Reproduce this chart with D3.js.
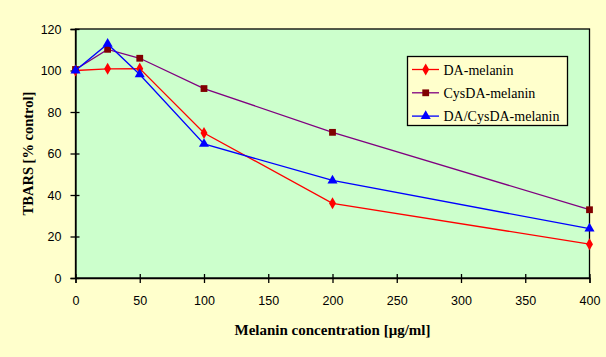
<!DOCTYPE html>
<html><head><meta charset="utf-8">
<script src="https://cdn.jsdelivr.net/npm/d3@7"></script>
<style>body{margin:0;background:#FFFFCC;} svg{display:block;}</style>
</head><body>
<script>
const concentrations = [0, 25, 50, 100, 200, 400];
const daMelanin = [100, 100.8, 100.9, 69.9, 36.0, 16.3];
const cysdaMelanin = [100.5, 110.2, 105.9, 91.3, 70.2, 32.9];
const mixMelanin = [100, 112.8, 98.1, 64.6, 47.0, 23.8];
const seriesNames = ["DA-melanin", "CysDA-melanin", "DA/CysDA-melanin"];
const xTicks = [0, 50, 100, 150, 200, 250, 300, 350, 400];
const yTicks = [0, 20, 40, 60, 80, 100, 120];
const xTitle = "Melanin concentration [\u03BCg/ml]";
const yTitle = "TBARS [% control]";

const W = 606, H = 357;
const L = 75.5, R = 589.5, T = 29, B = 278;
const svg = d3.select("body").append("svg").attr("width", W).attr("height", H);
svg.append("rect").attr("width", W).attr("height", H).attr("fill", "#FFFFCC");

const x = d3.scaleLinear().domain([0, 400]).range([L, R]);
const y = d3.scaleLinear().domain([0, 120]).range([B, T]);

svg.append("rect").attr("x", L).attr("y", T).attr("width", R - L).attr("height", B - T)
  .attr("fill", "#CCFFCC").attr("stroke", "#000").attr("stroke-width", 1.3);

const xa = svg.append("g").attr("transform", `translate(0,${B})`)
  .call(d3.axisBottom(x).tickValues(xTicks).tickFormat(d3.format("d")).tickSize(5).tickPadding(13));
xa.select(".domain").attr("stroke-width", 1.3);
xa.selectAll(".tick line").attr("y1", -4).attr("y2", 5).attr("stroke-width", 1.3);
xa.selectAll("text").attr("font-family", "Liberation Sans, Arial, sans-serif").attr("font-size", 12.5).attr("fill", "#000");

const ya = svg.append("g").attr("transform", `translate(${L},0)`)
  .call(d3.axisLeft(y).tickValues(yTicks).tickSize(5).tickPadding(9));
ya.select(".domain").attr("stroke-width", 1.3);
ya.selectAll(".tick line").attr("x1", -5).attr("x2", 4).attr("stroke-width", 1.3);
ya.selectAll("text").attr("font-family", "Liberation Sans, Arial, sans-serif").attr("font-size", 12.5).attr("fill", "#000");

svg.append("text").attr("x", (L + R) / 2).attr("y", 335).attr("text-anchor", "middle")
  .attr("font-family", "Liberation Serif, Times New Roman, serif").attr("font-weight", "bold").attr("font-size", 15)
  .text(xTitle);
svg.append("text").attr("transform", `translate(33,${(T + B) / 2}) rotate(-90)`).attr("text-anchor", "middle")
  .attr("font-family", "Liberation Serif, Times New Roman, serif").attr("font-weight", "bold").attr("font-size", 14.5)
  .text(yTitle);

const series = [
  {name: seriesNames[0], vals: daMelanin, line: "#FF0000", mark: "#FF0000", shape: "diamond"},
  {name: seriesNames[1], vals: cysdaMelanin, line: "#800080", mark: "#800000", shape: "square"},
  {name: seriesNames[2], vals: mixMelanin, line: "#0000FF", mark: "#0000FF", shape: "triangle"}
];
const symbols = {
  diamond: d3.symbol().type(d3.symbolDiamond).size(42),
  square: d3.symbol().type(d3.symbolSquare).size(46),
  triangle: d3.symbol().type(d3.symbolTriangle).size(44)
};
const line = d3.line().x(d => x(d[0])).y(d => y(d[1]));

series.forEach(s => {
  const pts = concentrations.map((c, i) => [c, s.vals[i]]);
  svg.append("path").datum(pts).attr("d", line).attr("fill", "none")
    .attr("stroke", s.line).attr("stroke-width", 1.3);
  svg.selectAll(null).data(pts).enter().append("path")
    .attr("transform", d => `translate(${x(d[0])},${y(d[1])})`)
    .attr("d", symbols[s.shape]()).attr("fill", s.mark);
});

// legend
const lg = svg.append("g");
lg.append("rect").attr("x", 407.5).attr("y", 56.5).attr("width", 160).attr("height", 69)
  .attr("fill", "#FFFFCC").attr("stroke", "#000").attr("stroke-width", 1.3);
series.forEach((s, i) => {
  const yy = 69.5 + i * 23.3;
  lg.append("line").attr("x1", 412).attr("x2", 439).attr("y1", yy).attr("y2", yy)
    .attr("stroke", s.line).attr("stroke-width", 1.3);
  lg.append("path").attr("transform", `translate(425.7,${yy})`).attr("d", symbols[s.shape]()).attr("fill", s.mark);
  lg.append("text").attr("x", 443.5).attr("y", yy + 5).attr("font-family", "Liberation Serif, Times New Roman, serif")
    .attr("font-size", 14).text(s.name);
});
</script>
</body></html>
